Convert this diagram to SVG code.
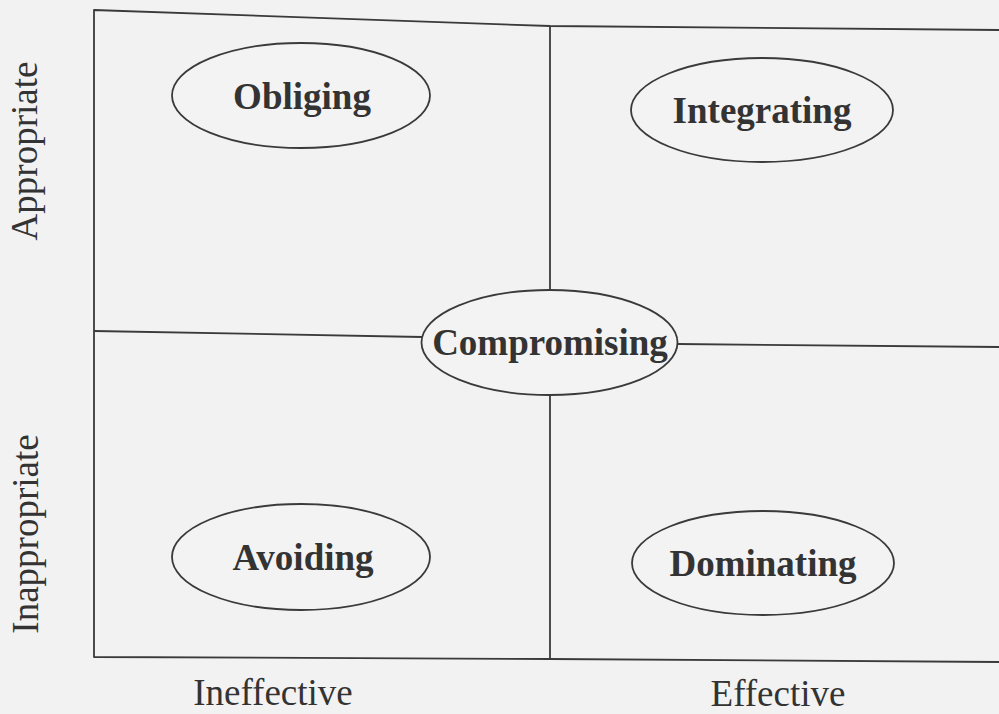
<svg xmlns="http://www.w3.org/2000/svg" width="999" height="714" viewBox="0 0 999 714">
  <style>
    .grid { fill: none; stroke: #3a3a3a; stroke-width: 1.8; stroke-linejoin: round; }
    .node ellipse { fill: #f3f3f3; stroke: #3a3a3a; stroke-width: 1.8; }
    .node text { font-family: "Liberation Serif", "Times New Roman", serif; font-weight: bold; font-size: 37px; fill: #333; text-anchor: middle; }
    .axis { font-family: "Liberation Serif", "Times New Roman", serif; font-size: 37px; fill: #333; text-anchor: middle; }
  </style>

  <!-- page -->
  <rect x="0" y="0" width="999" height="714" fill="#f2f2f2"/>

  <!-- quadrant frame and dividers -->
  <g id="connectors">
    <polyline class="grid" points="999,30 550,26 94,10 94,657 550,659 999,662"/>
    <line class="grid" x1="550" y1="26" x2="550" y2="290"/>
    <line class="grid" x1="550" y1="395" x2="550" y2="659"/>
    <line class="grid" x1="94" y1="331" x2="422" y2="337"/>
    <line class="grid" x1="678" y1="344" x2="999" y2="347"/>
  </g>

  <!-- conflict styles -->
  <g id="obliging" class="node">
    <ellipse cx="301" cy="95.5" rx="129" ry="52.5"/>
    <text x="302" y="109">Obliging</text>
  </g>
  <g id="integrating" class="node">
    <ellipse cx="762" cy="110" rx="131" ry="52"/>
    <text x="762" y="123">Integrating</text>
  </g>
  <g id="compromising" class="node">
    <ellipse cx="549.5" cy="342.5" rx="128" ry="52.5"/>
    <text x="550" y="355">Compromising</text>
  </g>
  <g id="avoiding" class="node">
    <ellipse cx="301" cy="557" rx="129" ry="53"/>
    <text x="303" y="570">Avoiding</text>
  </g>
  <g id="dominating" class="node">
    <ellipse cx="763" cy="563" rx="131" ry="52"/>
    <text x="763" y="576">Dominating</text>
  </g>

  <!-- axis labels -->
  <g id="axes">
    <text class="axis" transform="translate(37,151) rotate(-90)">Appropriate</text>
    <text class="axis" transform="translate(38,534) rotate(-90)">Inappropriate</text>
    <text class="axis" x="273" y="705">Ineffective</text>
    <text class="axis" x="778" y="706">Effective</text>
  </g>
</svg>
